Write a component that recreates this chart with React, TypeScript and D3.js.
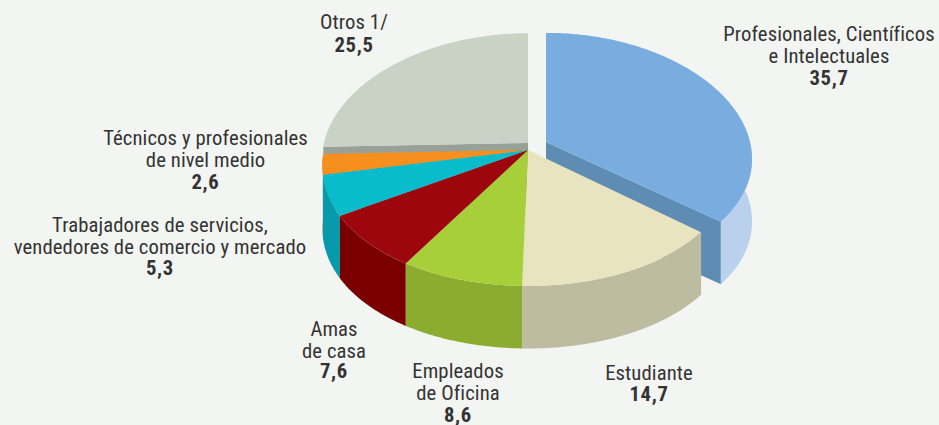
import React from "react";
import * as d3 from "d3";

const categories = ["Profesionales", "Estudiante", "Empleados", "Amas", "Trabajadores", "Tecnicos", "Otros"];
const values = [35.7, 14.7, 8.6, 7.6, 5.3, 2.6, 25.5];
const topColors = ["#7aaddf", "#e8e4c0", "#a6cf39", "#9e060e", "#08bccb", "#f78f1e", "#c8d2c5"];
const outerColors = ["#bad1ee", "#bdbba0", "#8aac2f", "#7a0000", "#069aab", "#c9741a", "#a3aca0"];
const innerColors = ["#5f8cb3", "#bdbba0", "#8aac2f", "#7a0000", "#069aab", "#c9741a", "#98a198"];
const centers: [number, number][] = [[546, 142], [528, 150], [528, 150], [528, 150], [528, 150], [528, 150], [528, 143]];
const yRadius = [120, 125.8, 125.8, 125.8, 125.8, 125.8, 118];
const yPerspective = [0.1, 0.075, 0.075, 0.075, 0.075, 0.075, 0.075];
const xPerspective = [0.14, 0.125, 0.125, 0.125, 0.125, 0.125, 0.125];

const labels: { x: number; lines: [string, number][]; value: string; vy: number }[] = [
  { x: 829, lines: [["Profesionales, Científicos", 41], ["e Intelectuales", 63]], value: "35,7", vy: 85 },
  { x: 354, lines: [["Otros 1/", 29]], value: "25,5", vy: 52 },
  { x: 205.5, lines: [["Técnicos y profesionales", 145], ["de nivel medio", 167]], value: "2,6", vy: 188.5 },
  { x: 160, lines: [["Trabajadores de servicios,", 232], ["vendedores de comercio y mercado", 254]], value: "5,3", vy: 275 },
  { x: 334, lines: [["Amas", 336], ["de casa", 358]], value: "7,6", vy: 378 },
  { x: 458, lines: [["Empleados", 378], ["de Oficina", 400]], value: "8,6", vy: 422 },
  { x: 649, lines: [["Estudiante", 380]], value: "14,7", vy: 401 },
];

const DEPTH = 62.5;
const RX = 204;

function project(i: number, a: number, dz = 0): [number, number] {
  const [cx, cy] = centers[i];
  const u = Math.sin(a);
  const v = Math.cos(a);
  return [cx + (RX * u) / (1 + xPerspective[i] * v), cy - (yRadius[i] * v) / (1 + yPerspective[i] * v) + dz];
}

const line = d3.line<[number, number]>();

function arcPts(i: number, a0: number, a1: number, dz = 0): [number, number][] {
  const n = Math.max(2, Math.ceil(Math.abs(a1 - a0) / 0.01));
  return d3.range(n + 1).map((k) => project(i, a0 + ((a1 - a0) * k) / n, dz));
}

const arcs = d3.pie<number>().sort(null).startAngle(0).endAngle(2 * Math.PI)(values);

function topPath(i: number) {
  const a = arcs[i];
  return line([centers[i], ...arcPts(i, a.startAngle, a.endAngle)]) + "Z";
}
function outerPath(i: number) {
  const a = arcs[i];
  const t = arcPts(i, a.startAngle, a.endAngle);
  const b = arcPts(i, a.endAngle, a.startAngle, DEPTH);
  return line([...t, ...b]) + "Z";
}
function innerPath(i: number, angle: number) {
  const c = centers[i];
  const e = project(i, angle);
  return line([c, e, [e[0], e[1] + DEPTH], [c[0], c[1] + DEPTH]]) + "Z";
}

export default function App() {
  const font = "'Liberation Sans Narrow','Roboto Condensed','Liberation Sans',sans-serif";
  return (
    <svg width={939} height={425} style={{ position: "fixed", left: 0, top: 0 }} fontFamily={font}>
      <rect width={939} height={425} fill="#f3f5f2" />
      <path d={innerPath(6, arcs[6].startAngle)} fill={innerColors[6]} />
      <path d={topPath(6)} fill={topColors[6]} />
      <path d={innerPath(0, arcs[0].endAngle)} fill={innerColors[0]} />
      <path d={outerPath(0)} fill={outerColors[0]} />
      <path d={topPath(0)} fill={topColors[0]} />
      {[5, 4, 3, 2, 1].map((i) => (
        <path key={categories[i] + "o"} d={outerPath(i)} fill={outerColors[i]} />
      ))}
      {[1, 2, 3, 4, 5].map((i) => (
        <path key={categories[i] + "t"} d={topPath(i)} fill={topColors[i]} />
      ))}
      <g fill="#333333" fontSize={20.7} textAnchor="middle" letterSpacing={0.1}>
        {labels.map((l) => (
          <g key={l.value}>
            {l.lines.map(([t, y]) => (
              <text key={t} x={l.x} y={y}>{t}</text>
            ))}
            <text x={l.x} y={l.vy} fontWeight="bold" letterSpacing={0.7}>{l.value}</text>
          </g>
        ))}
      </g>
    </svg>
  );
}
